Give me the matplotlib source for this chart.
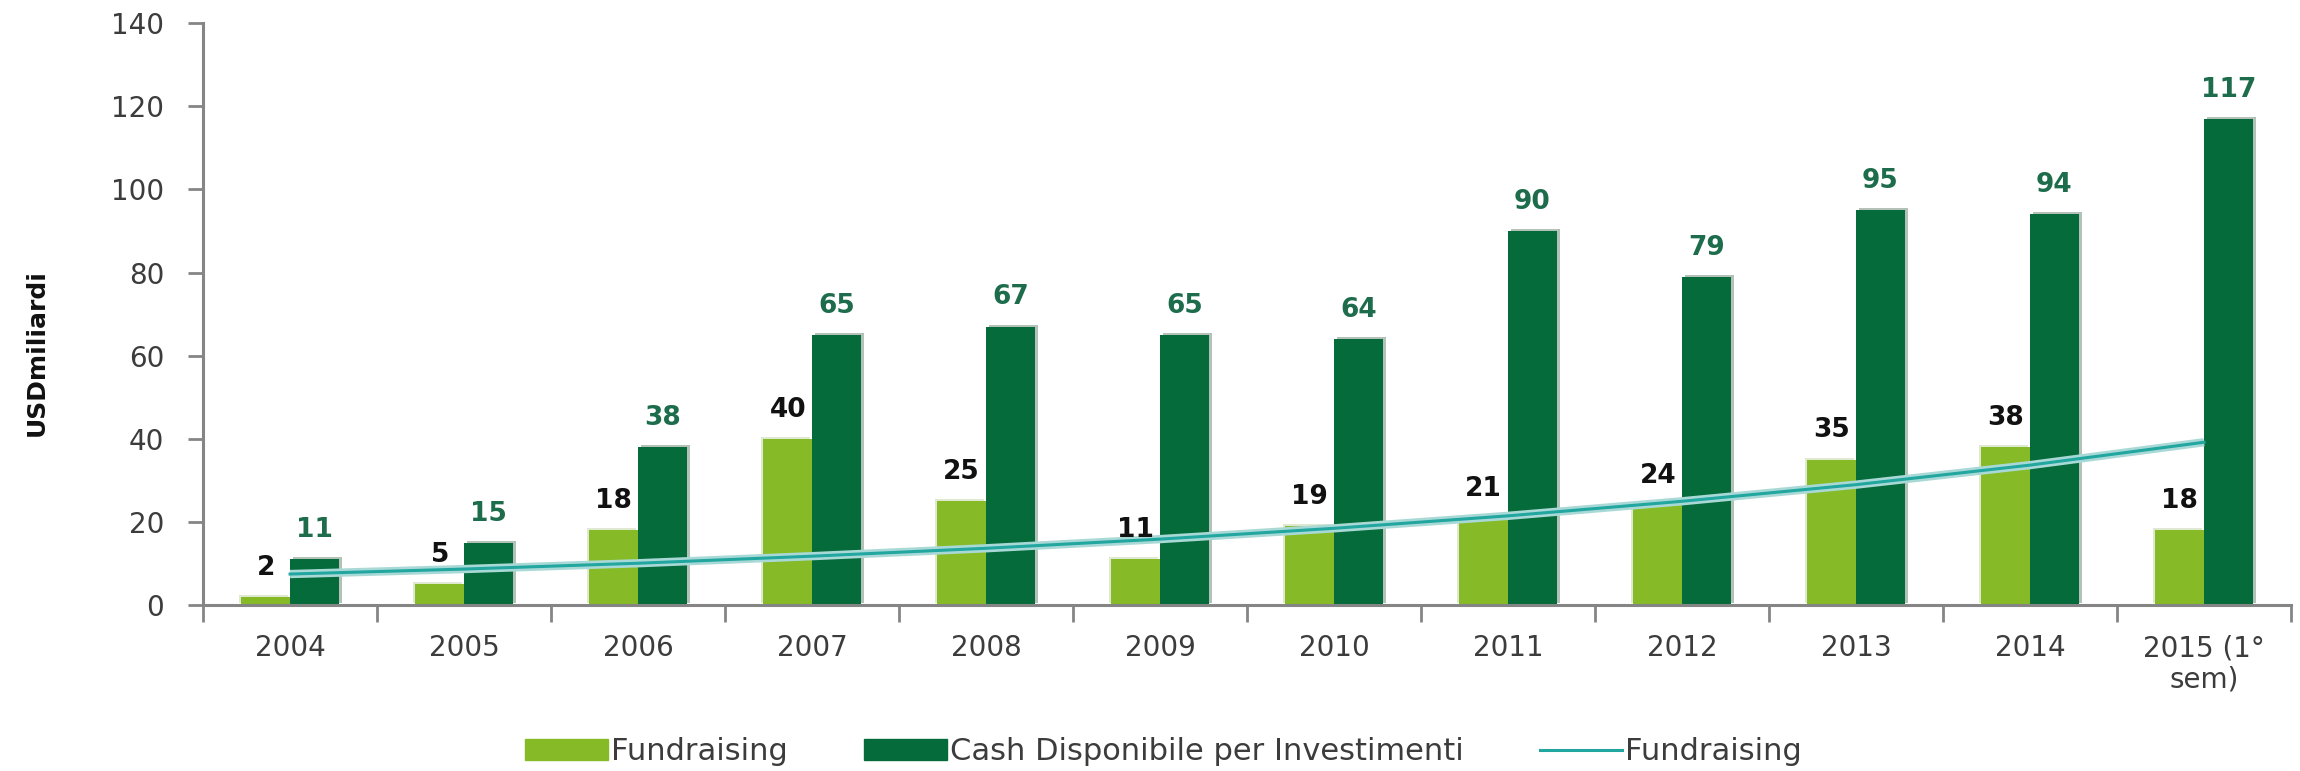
import numpy as np
import matplotlib
matplotlib.use('Agg')
import matplotlib.pyplot as plt
import matplotlib.patheffects as pe
from matplotlib.patches import Patch
from matplotlib.ticker import FixedLocator, NullFormatter

years = ['2004', '2005', '2006', '2007', '2008', '2009', '2010', '2011',
         '2012', '2013', '2014', '2015 (1°\nsem)']
fundraising = [2, 5, 18, 40, 25, 11, 19, 21, 24, 35, 38, 18]
cash = [11, 15, 38, 65, 67, 65, 64, 90, 79, 95, 94, 117]
# trend line
trend = [7.5, 8.7, 10.1, 11.8, 13.7, 15.9, 18.5, 21.5, 25.0, 29.0, 33.7, 39.2]

light = '#86bb27'
dark = '#066b3a'
teal = '#22a6a0'
grey = '#858585'
txt = '#3c3c3c'

plt.rcParams['font.family'] = ['DejaVu Sans']

fig = plt.figure(figsize=(23, 7.71), dpi=100)
ax = fig.add_axes([0.0883, 0.215, 0.9078, 0.755])

x = np.arange(len(years))
w = 0.28
ax.bar(x - w / 2, fundraising, w, color=light, zorder=2,
       path_effects=[pe.SimplePatchShadow(offset=(-1.5, 1.5), shadow_rgbFace='#dfe9d2', alpha=1), pe.Normal()])
ax.bar(x + w / 2, cash, w, color=dark, zorder=2,
       path_effects=[pe.SimplePatchShadow(offset=(2, 1.5), shadow_rgbFace='#b3c1b9', alpha=1), pe.Normal()])

ax.plot(x, trend, color='#a9d9d6', lw=6, zorder=3, solid_capstyle='butt')
ln, = ax.plot(x, trend, color=teal, lw=2.2, zorder=4)

for i in range(len(x)):
    ax.annotate(str(fundraising[i]), (x[i] - w / 2, fundraising[i]), xytext=(0, 16),
                textcoords='offset points', ha='center', va='baseline',
                fontsize=19, fontweight='bold', color='#111111', zorder=5)
    ax.annotate(str(cash[i]), (x[i] + w / 2, cash[i]), xytext=(0, 16),
                textcoords='offset points', ha='center', va='baseline',
                fontsize=19, fontweight='bold', color='#1d6c4c', zorder=5)

ax.set_xlim(-0.5, len(years) - 0.5)
ax.set_ylim(0, 140)
ax.set_yticks(range(0, 141, 20))
ax.tick_params(axis='y', length=11, width=2, color=grey, pad=17, labelsize=20, labelcolor=txt)

ax.xaxis.set_major_locator(FixedLocator(np.arange(-0.5, len(years), 1.0)))
ax.xaxis.set_major_formatter(NullFormatter())
ax.xaxis.set_minor_locator(FixedLocator(x))
ax.set_xticklabels(years, minor=True, linespacing=1.15)
ax.tick_params(axis='x', which='major', length=12, width=2, color=grey)
ax.tick_params(axis='x', which='minor', length=0, pad=21, labelsize=20, labelcolor=txt)

for s in ['top', 'right']:
    ax.spines[s].set_visible(False)
for s in ['left', 'bottom']:
    ax.spines[s].set_color(grey)
    ax.spines[s].set_linewidth(2.2)

fig.text(0.016, 0.543, 'USDmiliardi', rotation=90, fontsize=18, fontweight='bold',
         ha='center', va='center', color='#111111')

handles = [Patch(color=light), Patch(color=dark), ln]
fig.legend(handles=handles, labels=['Fundraising', 'Cash Disponibile per Investimenti', 'Fundraising'],
           loc='center', bbox_to_anchor=(0.506, 0.025), ncol=3, frameon=False,
           fontsize=22, handlelength=2.7, handleheight=0.65, handletextpad=0.1,
           columnspacing=2.5, labelcolor=txt)

fig.savefig('out.png', dpi=100)
